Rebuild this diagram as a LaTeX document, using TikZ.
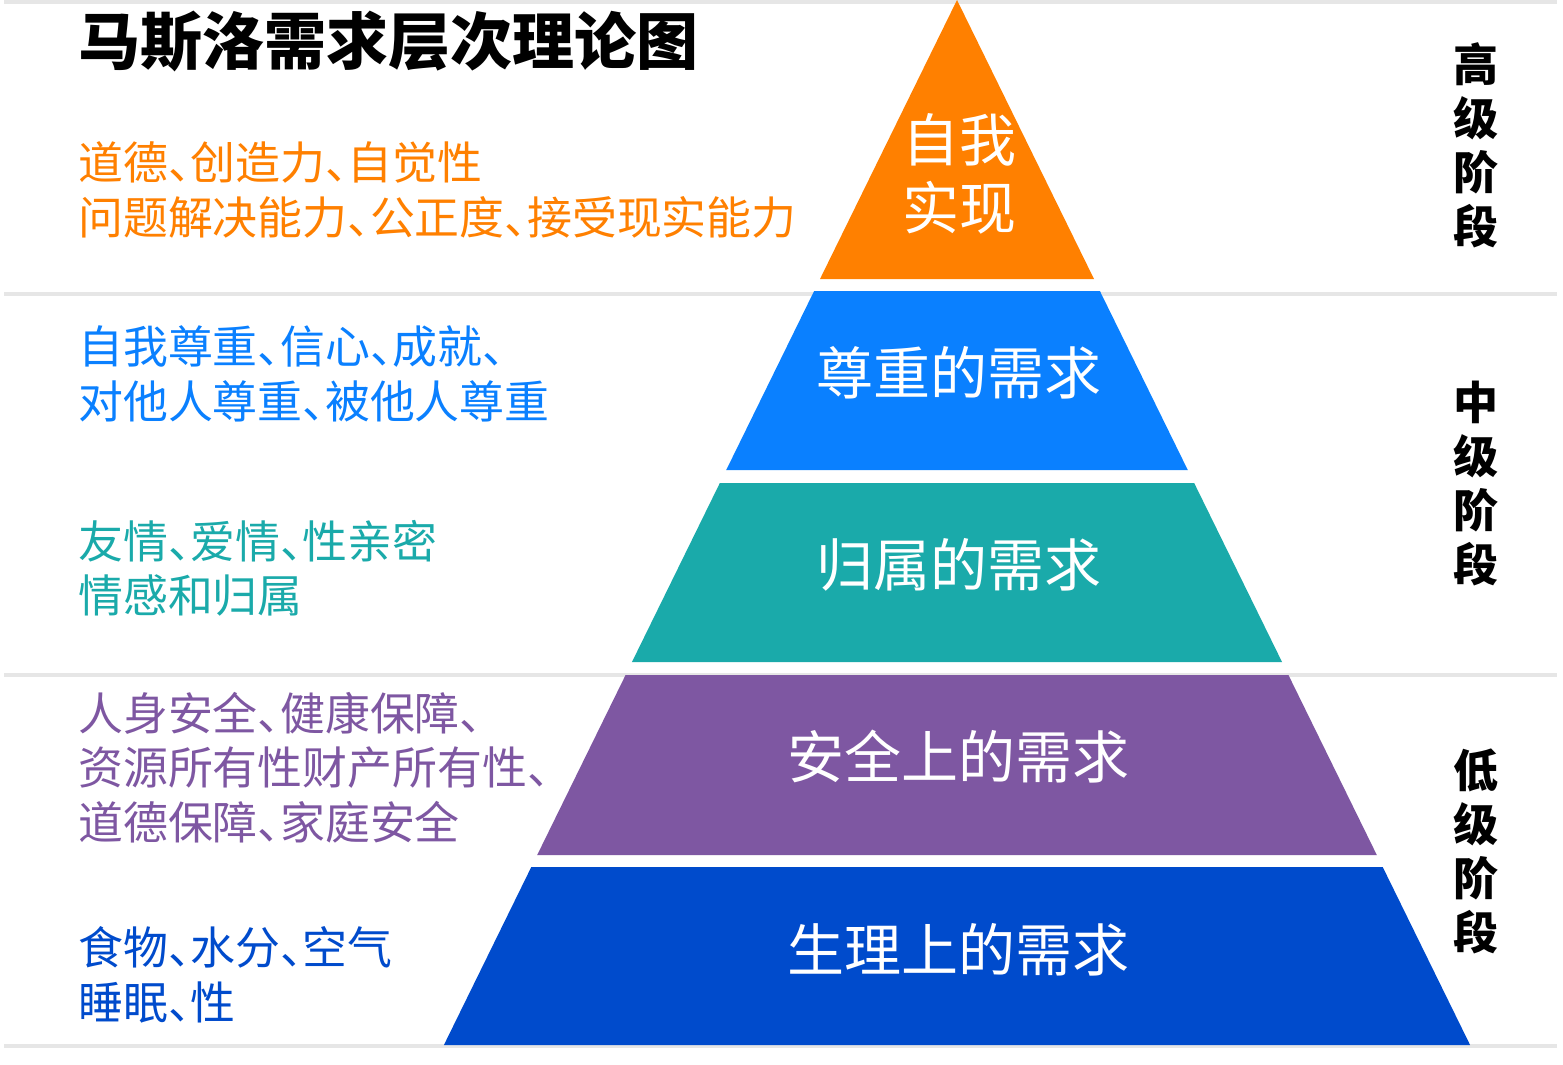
\documentclass[tikz,border=0pt]{standalone}
\usepackage{fontspec}
\newfontfamily\cjk{Noto Sans CJK SC}
\newfontfamily\cjkhalf[CharacterWidth=AlternateHalf]{Noto Sans CJK SC}
\definecolor{selfC}{HTML}{FF8000}
\definecolor{esteemC}{HTML}{0A80FF}
\definecolor{belongC}{HTML}{1AAAAA}
\definecolor{safeC}{HTML}{7E57A2}
\definecolor{bodyC}{HTML}{004BCC}
\definecolor{ruleC}{HTML}{E6E6E6}
\tikzset{
  layertext/.style={text=white, inner sep=0pt, align=center,
    font=\cjk\fontsize{57}{68}\selectfont},
  needtext/.style={anchor=west, inner sep=0pt, align=left,
    font=\cjkhalf\fontsize{44.9}{54.5}\selectfont},
  stagetext/.style={inner sep=0pt, align=center,
    font=\cjk\bfseries\fontsize{45}{54}\selectfont},
}
\begin{document}
\begin{tikzpicture}[x=1pt,y=-1pt]
    \useasboundingbox (0,0) rectangle (1563,1065);
    \fill[white] (0,0) rectangle (1563,1065);

    % Separator lines
    \foreach \yy in {2,293.5,675,1045.5}
        \fill[ruleC] (4,\yy-2) rectangle (1557,\yy+2);

    % Pyramid layers
    \foreach \ytop/\ybot/\col in {0/279/selfC, 291/470/esteemC, 483/662/belongC, 675/855/safeC, 867/1045/bodyC}
        \fill[\col] ({957-0.491*\ytop},\ytop) -- ({957+0.491*\ytop},\ytop)
            -- ({957+0.491*\ybot},\ybot) -- ({957-0.491*\ybot},\ybot) -- cycle;

    % Title
    \node[inner sep=0pt, font=\cjk\bfseries\fontsize{62}{62}\selectfont] (title) at (388,41) {马斯洛需求层次理论图};

    % Layer labels
    \node[layertext] (self)   at (959,174) {自我\\实现};
    \node[layertext] (esteem) at (959,373) {尊重的需求};
    \node[layertext] (belong) at (959,565) {归属的需求};
    \node[layertext] (safe)   at (958,757) {安全上的需求};
    \node[layertext] (body)   at (958,950) {生理上的需求};

    % Descriptions
    \node[needtext, text=selfC]   (selfd)   at (78,190)   {道德、创造力、自觉性\\问题解决能力、公正度、接受现实能力};
    \node[needtext, text=esteemC] (esteemd) at (78,374)   {自我尊重、信心、成就、\\对他人尊重、被他人尊重};
    \node[needtext, text=belongC] (belongd) at (78,568.5) {友情、爱情、性亲密\\情感和归属};
    \node[needtext, text=safeC]   (safed)   at (78,767.5) {人身安全、健康保障、\\资源所有性财产所有性、\\道德保障、家庭安全};
    \node[needtext, text=bodyC]   (bodyd)   at (78,975)   {食物、水分、空气\\睡眠、性};

    % Stages
    \node[stagetext] (high) at (1476,145)   {高\\级\\阶\\段};
    \node[stagetext] (mid)  at (1476,484)   {中\\级\\阶\\段};
    \node[stagetext] (low)  at (1476,851.5) {低\\级\\阶\\段};
\end{tikzpicture}
\end{document}
